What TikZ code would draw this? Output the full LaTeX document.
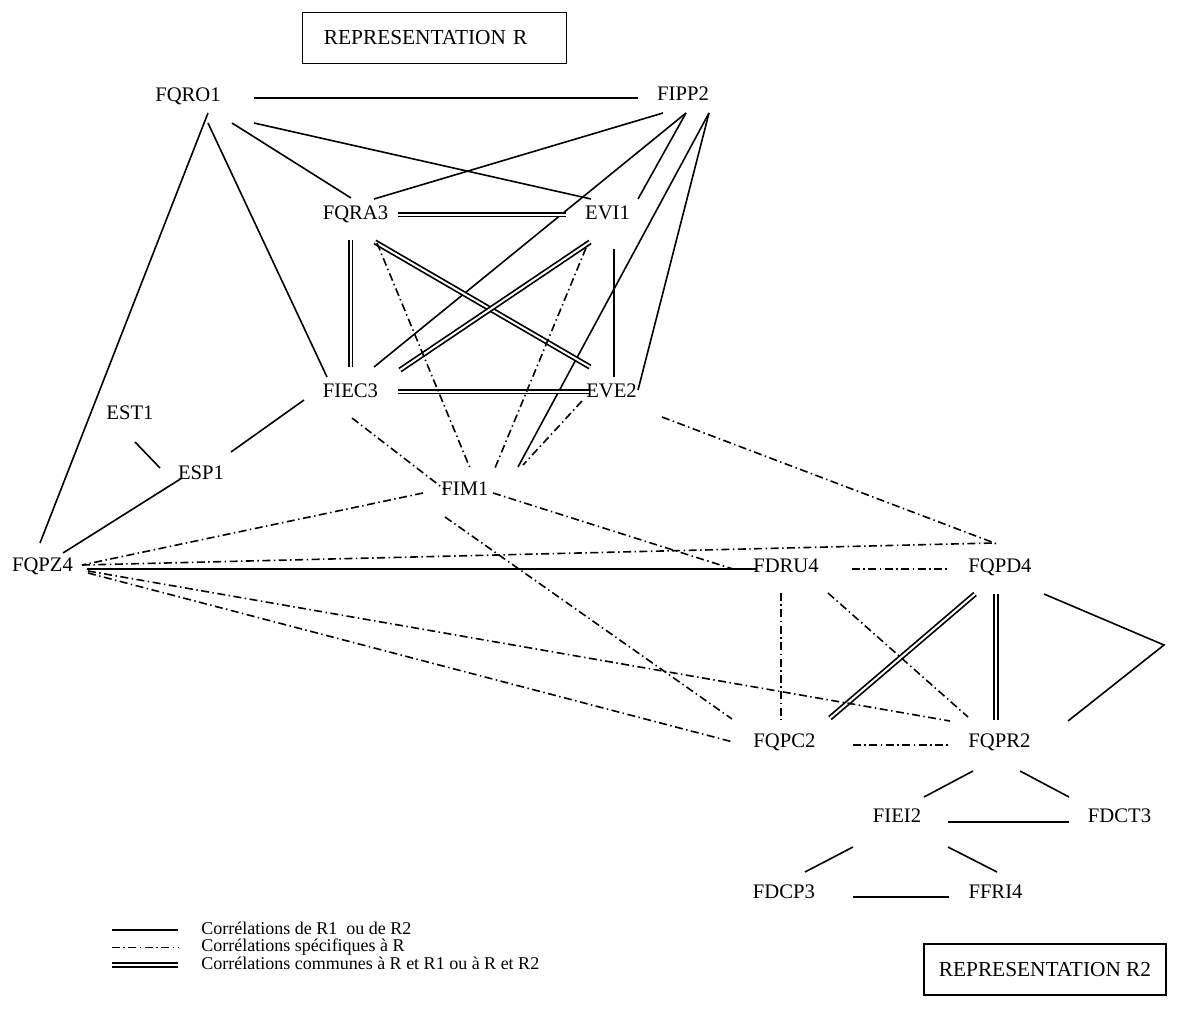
\documentclass[tikz,border=0pt]{standalone}
\usepackage{fontspec}
\setmainfont{Liberation Serif}
\usetikzlibrary{calc}
\begin{document}
\begin{tikzpicture}[x=0.75pt,y=-0.75pt,
  lab/.style={inner sep=0pt, text height=0.66em, text depth=0pt, font=\fontsize{15.5}{18}\selectfont},
  legtext/.style={inner sep=0pt, anchor=west, text height=0.66em, text depth=0pt, font=\fontsize{13.5}{16}\selectfont},
  titlebox/.style={draw, line width=1.1pt, inner sep=0pt, font=\fontsize{16}{19}\selectfont},
  sline/.style={line width=1.2pt},
  dline/.style={line width=1.3pt, double, double distance=1.5pt},
  rline/.style={line width=1.2pt, dash pattern=on 6pt off 2.6pt on 1.1pt off 2.6pt}
]
\useasboundingbox (0,0) rectangle (1182,1014);

% title boxes
\node[titlebox, minimum width=198.2pt, minimum height=38pt, text width=166pt, align=left] (boxR) at (434.6,38) {REPRESENTATION R};
\node[titlebox, minimum width=181.5pt, minimum height=38.5pt] (boxR2) at (1045,969.5) {REPRESENTATION R2};

% nodes
\node[lab] (FQRO1) at (188,97) {FQRO1};
\node[lab] (FIPP2) at (683,96) {FIPP2};
\node[lab] (FQRA3) at (355.5,215) {FQRA3};
\node[lab] (EVI1) at (607.5,215) {EVI1};
\node[lab] (FIEC3) at (350.5,393) {FIEC3};
\node[lab] (EVE2) at (611.5,393) {EVE2};
\node[lab] (EST1) at (130,415) {EST1};
\node[lab] (ESP1) at (201,475) {ESP1};
\node[lab] (FIM1) at (465,491) {FIM1};
\node[lab] (FQPZ4) at (42.5,567) {FQPZ4};
\node[lab] (FDRU4) at (786,568) {FDRU4};
\node[lab] (FQPD4) at (1000,568) {FQPD4};
\node[lab] (FQPC2) at (784.5,743) {FQPC2};
\node[lab] (FQPR2) at (999.5,743) {FQPR2};
\node[lab] (FIEI2) at (897,818) {FIEI2};
\node[lab] (FDCT3) at (1119.5,818) {FDCT3};
\node[lab] (FDCP3) at (784,894) {FDCP3};
\node[lab] (FFRI4) at (995.5,894) {FFRI4};
\coordinate (tip) at (1164,645);

% solid correlations
\draw[sline] ($(FQRO1)+(66,1)$) -- ($(FIPP2)+(-45,2)$);
\draw[sline] ($(FQRO1)+(44,26)$) -- ($(FQRA3)+(-4.5,-17)$);
\draw[sline] ($(FQRO1)+(66,26)$) -- ($(EVI1)+(-16.5,-16)$);
\draw[sline] ($(FQRO1)+(20,16)$) -- ($(FQPZ4)+(-2.5,-24)$);
\draw[sline] ($(FQRO1)+(20,26)$) -- ($(FIEC3)+(-23.5,-16)$);
\draw[sline] ($(FIPP2)+(-20,17)$) -- ($(FQRA3)+(18.5,-16)$);
\draw[sline] ($(FIPP2)+(3,17)$) -- ($(FIEC3)+(23.5,-26)$);
\draw[sline] ($(FIPP2)+(3,17)$) -- ($(EVI1)+(30.5,-16)$);
\draw[sline] ($(FIPP2)+(26,17)$) -- ($(FIM1)+(53,-24)$);
\draw[sline] ($(FIPP2)+(26,17)$) -- ($(EVE2)+(26.5,-3)$);
\draw[sline] ($(EVI1)+(6.5,34)$) -- ($(EVE2)+(2.5,-16)$);
\draw[sline] ($(FIEC3)+(-46.5,7)$) -- ($(ESP1)+(30,-23)$);
\draw[sline] ($(EST1)+(5,27)$) -- ($(ESP1)+(-41,-7)$);
\draw[sline] ($(ESP1)+(-19,3)$) -- ($(FQPZ4)+(20.5,-14)$);
\draw[sline] ($(FQPZ4)+(44.5,2)$) -- ($(FDRU4)+(-29,1)$);
\draw[sline] ($(FQPD4)+(44,26)$) -- (tip) -- ($(FQPR2)+(68.5,-22)$);
\draw[sline] ($(FQPR2)+(-26.5,28)$) -- ($(FIEI2)+(27,-21)$);
\draw[sline] ($(FQPR2)+(20.5,28)$) -- ($(FDCT3)+(-50.5,-21)$);
\draw[sline] ($(FIEI2)+(51,4)$) -- ($(FDCT3)+(-50.5,4)$);
\draw[sline] ($(FIEI2)+(-44,29)$) -- ($(FDCP3)+(21,-22)$);
\draw[sline] ($(FIEI2)+(51,29)$) -- ($(FFRI4)+(1.5,-22)$);
\draw[sline] ($(FDCP3)+(69,3)$) -- ($(FFRI4)+(-46.5,3)$);

% common correlations (double)
\draw[dline] ($(FQRA3)+(42.5,-0.5)$) -- ($(EVI1)+(-41.5,-0.5)$);
\draw[dline] ($(FQRA3)+(-5,25)$) -- ($(FIEC3)+(0,-26)$);
\draw[dline] ($(FQRA3)+(19.5,27)$) -- ($(EVE2)+(-21.5,-26)$);
\draw[dline] ($(EVI1)+(-17.5,27)$) -- ($(FIEC3)+(49.5,-23)$);
\draw[dline] ($(FIEC3)+(47.5,-1.5)$) -- ($(EVE2)+(-22.5,-1.5)$);
\draw[dline] ($(FQPD4)+(-25,26)$) -- ($(FQPC2)+(45.5,-25)$);
\draw[dline] ($(FQPD4)+(-4,26)$) -- ($(FQPR2)+(-3.5,-23)$);

% specific correlations (dash-dot)
\draw[rline] ($(FQRA3)+(21.5,28)$) -- ($(FIM1)+(5,-23)$);
\draw[rline] ($(EVI1)+(-21.5,33)$) -- ($(FIM1)+(30,-23)$);
\draw[rline] ($(EVE2)+(-29.5,8)$) -- ($(FIM1)+(58,-26)$);
\draw[rline] ($(FIEC3)+(1.5,25)$) -- ($(FIM1)+(-21,-2)$);
\draw[rline] ($(FIM1)+(-42,2)$) -- ($(FQPZ4)+(39.5,-2)$);
\draw[rline] ($(FIM1)+(28,2)$) -- ($(FDRU4)+(-53,1)$);
\draw[rline] ($(FIM1)+(-20,26)$) -- ($(FQPC2)+(-52.5,-24)$);
\draw[rline] ($(EVE2)+(50.5,24)$) -- ($(FQPD4)+(-3,-24)$);
\draw[rline] ($(FQPZ4)+(39.5,-2)$) -- ($(FQPD4)+(-7,-25)$);
\draw[rline] ($(FQPZ4)+(45.5,4)$) -- ($(FQPR2)+(-49.5,-22)$);
\draw[rline] ($(FQPZ4)+(45.5,6)$) -- ($(FQPC2)+(-51.5,-1)$);
\draw[rline] ($(FDRU4)+(66,1)$) -- ($(FQPD4)+(-52,1)$);
\draw[rline] ($(FDRU4)+(-5,25)$) -- ($(FQPC2)+(-3.5,-23)$);
\draw[rline] ($(FDRU4)+(42,25)$) -- ($(FQPR2)+(-31.5,-26)$);
\draw[rline] ($(FQPC2)+(68.5,2)$) -- ($(FQPR2)+(-50.5,2)$);

% legend
\node[legtext] (leg1) at (201,930) {Corrélations de R1\ \ ou de R2};
\node[legtext] (leg2) at (201,947.5) {Corrélations spécifiques à R};
\node[legtext] (leg3) at (201,965) {Corrélations communes à R et R1 ou à R et R2};
\draw[sline] ($(leg1.west)+(-89,0)$) -- ($(leg1.west)+(-23,0)$);
\draw[rline] ($(leg2.west)+(-89,0)$) -- ($(leg2.west)+(-23,0)$);
\draw[dline] ($(leg3.west)+(-89,0)$) -- ($(leg3.west)+(-23,0)$);
\end{tikzpicture}
\end{document}
